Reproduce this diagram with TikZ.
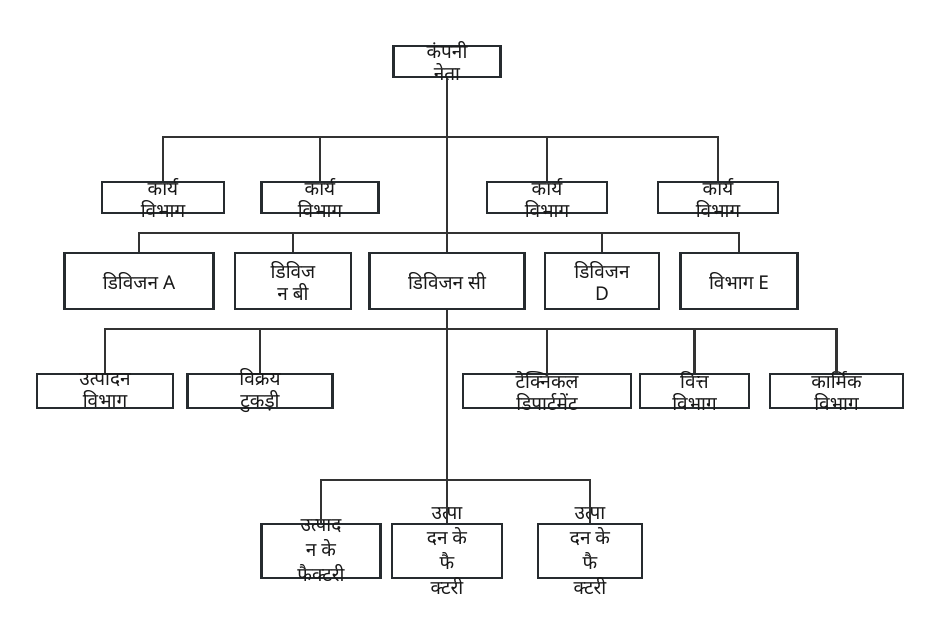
\documentclass[tikz,border=0pt]{standalone}
\usepackage{fontspec}
\newfontfamily\hindifont[Script=Devanagari]{Noto Sans}
\usetikzlibrary{positioning}
\definecolor{OrgBox}{HTML}{262B2F}
\definecolor{OrgLine}{HTML}{333333}

\begin{document}
\begin{tikzpicture}[
  x=1pt, y=-1pt,
  unit/.style={draw=OrgBox, line width=2.6pt, inner sep=0pt},
  lbl/.style={align=center, inner sep=0pt, text=black!90, font=\hindifont\fontsize{19}{22}\selectfont},
  tall/.style={font=\hindifont\fontsize{19}{25}\selectfont},
  link/.style={draw=OrgLine, line width=2.2pt}
]
\fill[white] (0,0) rectangle (940,637);
\useasboundingbox (0,0) rectangle (940,637);

% boxes
\node[unit, minimum width=107, minimum height=31] (lead) at (447,61.5) {};
\node[unit, minimum width=122, minimum height=31] (k1) at (163,197.5) {};
\node[unit, minimum width=117, minimum height=31] (k2) at (320,197.5) {};
\node[unit, minimum width=120, minimum height=31] (k3) at (547,197.5) {};
\node[unit, minimum width=120, minimum height=31] (k4) at (718,197.5) {};
\node[unit, minimum width=149, minimum height=56] (dA) at (139,281) {};
\node[unit, minimum width=116, minimum height=56] (dB) at (293,281) {};
\node[unit, minimum width=155, minimum height=56] (dC) at (447,281) {};
\node[unit, minimum width=114, minimum height=56] (dD) at (602,281) {};
\node[unit, minimum width=117, minimum height=56] (dE) at (739,281) {};
\node[unit, minimum width=136, minimum height=34] (p1) at (105,391) {};
\node[unit, minimum width=145, minimum height=34] (p2) at (260,391) {};
\node[unit, minimum width=168, minimum height=34] (p3) at (547,391) {};
\node[unit, minimum width=109, minimum height=34] (p4) at (694.5,391) {};
\node[unit, minimum width=133, minimum height=34] (p5) at (836.5,391) {};
\node[unit, minimum width=119, minimum height=54] (f1) at (321,551) {};
\node[unit, minimum width=110, minimum height=54] (f2) at (447,551) {};
\node[unit, minimum width=104, minimum height=54] (f3) at (590,551) {};

% texts
\node[lbl] at (lead) {कंपनी\\नेता};
\foreach \c in {k1,k2,k3,k4}
  \node[lbl] at (\c) {कार्य\\विभाग};
\node[lbl] at (dA) {डिविजन A};
\node[lbl] at (dB) {डिविज\\न बी};
\node[lbl] at (dC) {डिविजन सी};
\node[lbl] at (dD) {डिविजन\\D};
\node[lbl] at (dE) {विभाग E};
\node[lbl] at (p1) {उत्पादन\\विभाग};
\node[lbl] at (p2) {विक्रय\\टुकड़ी};
\node[lbl] at (p3) {टेक्निकल\\डिपार्टमेंट};
\node[lbl] at (p4) {वित्त\\विभाग};
\node[lbl] at (p5) {कार्मिक\\विभाग};
\node[lbl, tall] at (f1) {उत्पाद\\न के\\फैक्टरी};
\node[lbl, tall] at (f2) {उत्पा\\दन के\\फै\\क्टरी};
\node[lbl, tall] at (f3) {उत्पा\\दन के\\फै\\क्टरी};

% connectors
\coordinate (bus1) at (447,137);
\coordinate (bus2) at (447,233);
\coordinate (bus3) at (447,329);
\coordinate (bus4) at (447,480);
\draw[link] (lead.south) -- (dC.north);
\draw[link] (dC.south) -- (f2.north);
\foreach \c in {k1,k2,k3,k4}
  \draw[link] (bus1) -| (\c.north);
\foreach \c in {dA,dB,dD,dE}
  \draw[link] (bus2) -| (\c.north);
\foreach \c in {p1,p2,p3,p4,p5}
  \draw[link] (bus3) -| (\c.north);
\foreach \c in {f1,f3}
  \draw[link] (bus4) -| (\c.north);
\end{tikzpicture}
\end{document}
